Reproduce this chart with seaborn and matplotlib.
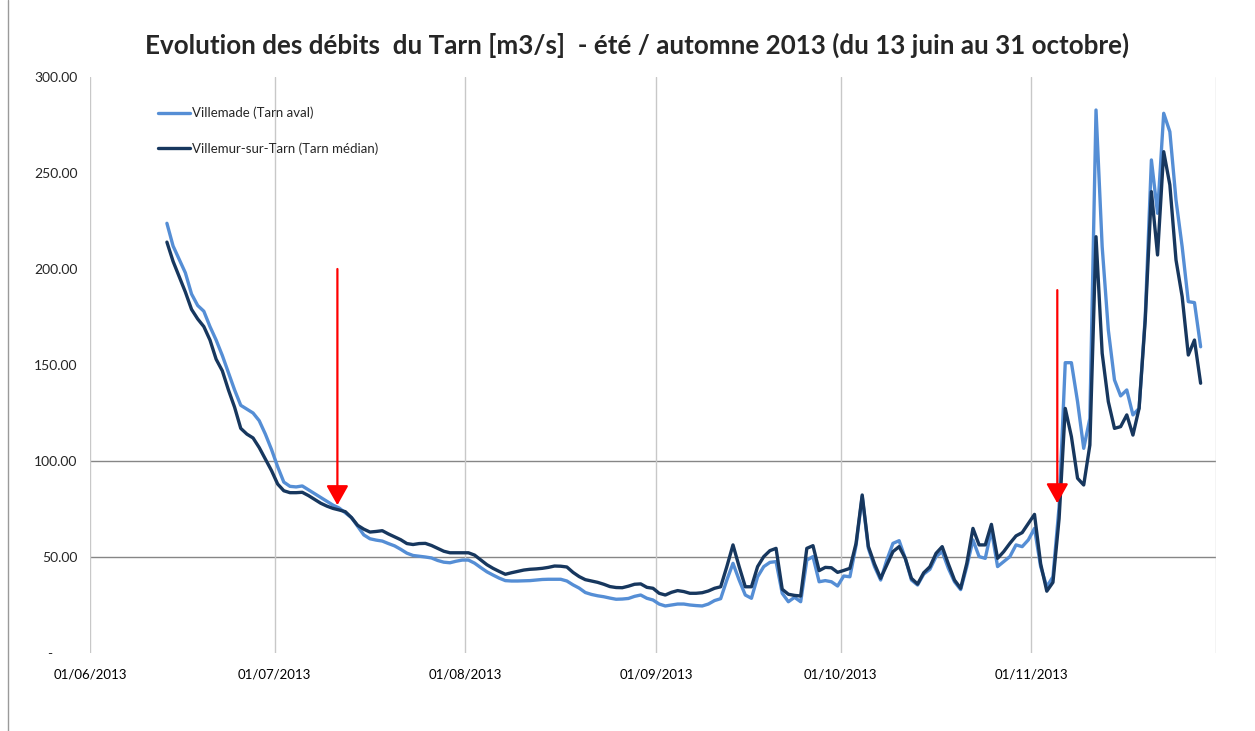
import pandas as pd
import matplotlib
matplotlib.use('Agg')
import matplotlib.pyplot as plt
import matplotlib.transforms as mtransforms
from matplotlib.lines import Line2D
import seaborn as sns

# --- DATA (daily flows, m3/s) ---
start_date = '2013-06-13'

villemade = [
    223.8, 212, 205, 198, 187, 181, 178, 170, 163, 155,
    146, 137, 129, 127, 125, 121, 114, 106, 97, 89,
    86.8, 86.5, 87, 85, 83, 81, 79, 77, 75.5, 73,
    70.5, 66, 61.5, 59.5, 58.8, 58.3, 57, 55.8, 54, 52,
    50.8, 50.4, 50, 49.5, 48.2, 47.3, 47, 47.8, 48.4, 48.4,
    46.8, 44.5, 42.3, 40.6, 39, 37.7, 37.5, 37.5, 37.6, 37.7,
    38, 38.3, 38.4, 38.4, 38.4, 37.5, 35.5, 33.8, 31.5, 30.5,
    29.8, 29.3, 28.6, 28, 28.1, 28.4, 29.5, 30.2, 28.5, 27.6,
    25.5, 24.5, 25, 25.5, 25.5, 25, 24.7, 24.5, 25.5, 27.3,
    28.3, 38, 46.7, 38, 30.2, 28.5, 39.7, 45, 47.2, 47.6,
    31.1, 26.7, 29, 26.7, 48.4, 50.2, 37.1, 37.7, 37.1, 34.9,
    40.1, 39.7, 56, 81.6, 54.5, 45, 38, 48.4, 57.1, 58.5,
    49.3, 38, 35.4, 41.1, 43.6, 50.2, 52.8, 44.1, 37.1, 33,
    45, 58.9, 50.2, 49.3, 64.1, 45, 47.6, 50.2, 56.3, 55.4,
    58.9, 64.9, 45, 34.5, 39.7, 76.2, 151.2, 151.2, 130.9, 106.6,
    122.2, 282.8, 211.6, 168.2, 142.2, 133.9, 137, 124, 127.4, 175.2,
    256.8, 229, 281.1, 271.5, 235.9, 211.6, 183, 182.5, 159.5,
]

villemur = [
    214, 204, 196, 188, 179, 174, 170, 163, 153, 147,
    137, 128, 117, 114, 112, 107, 101, 95, 88, 84.5,
    83.5, 83.5, 83.7, 82, 80, 78, 76.5, 75.3, 74.5, 73.6,
    70.5, 66.5, 64.5, 63, 63.3, 63.7, 62, 60.5, 59, 57,
    56.5, 57, 57.1, 56, 54.5, 53, 52.2, 52.2, 52.2, 52.2,
    51, 48.5, 46, 44.1, 42.5, 41, 41.8, 42.5, 43.2, 43.6,
    43.8, 44.1, 44.6, 45.3, 45.2, 44.8, 42, 39.8, 38.2, 37.5,
    36.8, 35.8, 34.6, 34.1, 34, 34.8, 35.8, 36, 34.2, 33.7,
    31.1, 30.2, 31.6, 32.5, 32, 31.1, 31.1, 31.4, 32.3, 33.7,
    34.5, 45, 56.3, 45, 34.5, 34.5, 45, 50.2, 53.3, 54.5,
    33.2, 30.6, 30, 29.7, 54.5, 55.9, 42.9, 44.6, 44.4, 42,
    43, 44.1, 57.1, 82.3, 55.5, 46.4, 38.9, 45.8, 52.8, 55.4,
    49.3, 38.9, 35.9, 41.8, 44.9, 51.9, 55.4, 46.4, 38, 33.7,
    46.7, 64.9, 56.3, 56.3, 67, 49.3, 52.8, 57.1, 61, 62.7,
    67.5, 72.2, 46.5, 32.2, 36.8, 70, 127.4, 112.7, 91, 87.5,
    108.3, 216.8, 156.1, 130.9, 117, 117.9, 124, 113.5, 127.4, 173.4,
    240.3, 207.3, 261.1, 243.8, 204.7, 185.6, 155.2, 163, 140.5,
]

series_names = ['Villemade (Tarn aval)', 'Villemur-sur-Tarn (Tarn médian)']
series_colors = ['#558ED5', '#17375E']

month_ticks = ['2013-06-01', '2013-07-01', '2013-08-01', '2013-09-01',
               '2013-10-01', '2013-11-01', '2013-12-01']
month_labels = ['01/06/2013', '01/07/2013', '01/08/2013', '01/09/2013',
                '01/10/2013', '01/11/2013', '']
y_ticks = [0, 50, 100, 150, 200, 250, 300]
y_labels = ['-', '50.00', '100.00', '150.00', '200.00', '250.00', '300.00']
hline_levels = [50, 100]

# red arrows marking the two events
arrow_dates = ['2013-07-11 05:00', '2013-11-05 05:00']
arrow_tops = [200, 189]
arrow_tips = [77, 78]

title = 'Evolution des débits  du Tarn [m3/s]  - été / automne 2013 (du 13 juin au 31 octobre)'

# --- BUILD TABLE ---
# excel date axis puts each daily point in the middle of its day
dates = pd.date_range(start_date, periods=len(villemade), freq='D') + pd.Timedelta(hours=12)
df = pd.DataFrame({
    'date': list(dates) + list(dates),
    'debit': villemade + villemur,
    'station': [series_names[0]] * len(villemade) + [series_names[1]] * len(villemur),
})

# --- PLOT ---
sns.set_style('white')
plt.rcParams['font.family'] = ['Lato', 'DejaVu Sans']

fig = plt.figure(figsize=(12.55, 7.31), dpi=100)
ax = fig.add_axes([90 / 1255, 1 - 653 / 731, (1216 - 90) / 1255, (653 - 77) / 731])

for v in hline_levels:
    ax.axhline(v, color='#868686', lw=1, zorder=0.5)

sns.lineplot(data=df, x='date', y='debit', hue='station',
             palette=dict(zip(series_names, series_colors)),
             linewidth=2.4, ax=ax)

for d, top, tip in zip(arrow_dates, arrow_tops, arrow_tips):
    ax.annotate('', xy=(pd.Timestamp(d), tip), xytext=(pd.Timestamp(d), top),
                arrowprops=dict(arrowstyle='-|>,head_length=0.8,head_width=0.45',
                                color='#FF0000', lw=1.6, mutation_scale=15,
                                shrinkA=0, shrinkB=0))

ax.set_xlim(pd.Timestamp(month_ticks[0]), pd.Timestamp(month_ticks[-1]))
ax.set_ylim(0, 300)
ax.set_xticks(pd.to_datetime(month_ticks))
ax.set_xticklabels(month_labels)
ax.set_yticks(y_ticks)
ax.set_yticklabels(y_labels)
ax.set_xlabel('')
ax.set_ylabel('')

for s in ax.spines.values():
    s.set_visible(False)

ax.grid(axis='x', color='#c8c8c8', lw=1)
ax.grid(axis='y', visible=False)
ax.tick_params(axis='x', length=5, width=1, color='#c8c8c8', labelcolor='#000000',
               labelsize=9.5, pad=6)
ax.tick_params(axis='y', length=0, labelsize=10, pad=9)

# excel puts the "-" for zero a bit to the left
zero_lbl = ax.get_yticklabels()[0]
zero_lbl.set_transform(zero_lbl.get_transform() +
                       mtransforms.ScaledTranslation(-0.25, 0, fig.dpi_scale_trans))

handles, labels = ax.get_legend_handles_labels()
ax.legend(handles, labels, frameon=False, loc='upper left',
          bbox_to_anchor=(0.05, 0.969), fontsize=9.5,
          handlelength=2.4, handletextpad=0.15, labelspacing=1.75)

fig.text(0.5075, 1 - 45 / 731, title, ha='center', va='center',
         fontsize=18.7, fontweight='bold')

# chart-area border on the left
fig.add_artist(Line2D([8 / 1255, 8 / 1255], [0, 1], transform=fig.transFigure,
                      color='#9a9a9a', lw=1))

plt.savefig('out.png', dpi=100)
plt.close()
